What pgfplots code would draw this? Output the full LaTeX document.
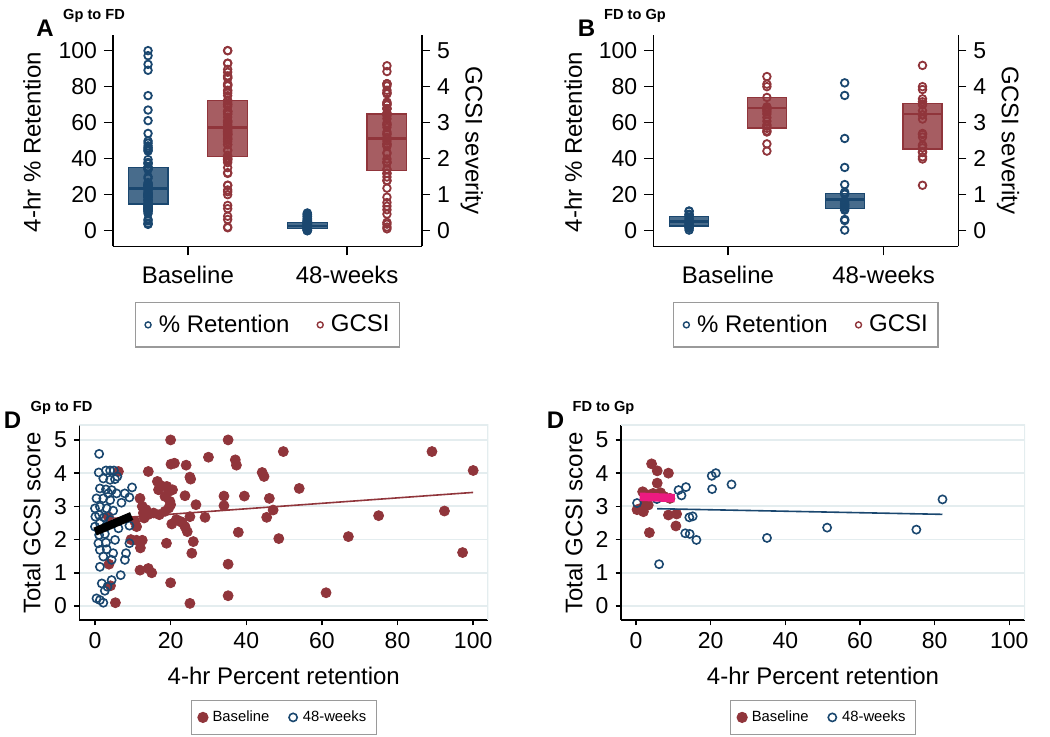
\documentclass[border=0pt]{standalone}
\usepackage{fontspec}
\setmainfont{Liberation Sans}
\usepackage{pgfplots}
\usepackage{pgfplotstable}
\pgfplotsset{compat=1.18}
\definecolor{navy}{HTML}{1A476F}
\definecolor{maroon}{HTML}{90353B}
\definecolor{gridc}{HTML}{E4EDEF}
\definecolor{fitpink}{RGB}{236,26,128}
\definecolor{legframe}{HTML}{9A9A9A}

% Gp to FD, baseline: 4-hr retention, GCSI
\pgfplotstableread{
ret gcsi
20.0 5.00
35.2 5.00
49.8 4.65
89.1 4.65
30.0 4.48
37.1 4.40
37.4 4.24
20.1 4.27
21.0 4.30
24.1 4.24
14.1 4.05
6.2 4.05
25.1 3.88
25.3 3.82
44.2 4.02
44.7 3.90
100 4.08
54.0 3.54
16.5 3.75
16.8 3.50
17.5 3.62
19.0 3.60
19.5 3.45
20.5 3.50
18.5 3.30
19.8 3.15
39.5 3.31
34.1 3.31
46.1 3.24
23.8 3.32
11.9 3.24
12.5 3.00
13.5 2.90
26.7 3.05
34.1 3.02
47.1 2.89
92.4 2.86
29.1 2.67
45.4 2.67
75.0 2.72
20.3 2.47
23.0 2.52
25.1 2.69
23.8 2.39
24.4 2.24
37.9 2.22
67.0 2.09
18.9 1.89
26.0 1.94
48.6 2.03
11.0 2.39
9.5 2.00
11.0 1.98
12.0 1.75
12.5 1.98
25.6 1.59
97.2 1.61
35.2 1.26
11.9 1.08
14.1 1.13
15.0 1.00
3.7 1.26
20.0 0.70
4.1 0.61
61.1 0.40
35.2 0.31
5.4 0.10
25.1 0.08
3.5 2.69
12.8 2.80
14.0 2.75
15.5 2.80
17.0 2.75
18.5 2.85
19.5 2.95
20.0 3.05
13.0 2.65
10.5 2.55
21.5 2.60
22.5 2.55
}\gpBase

% Gp to FD, 48 weeks
\pgfplotstableread{
ret gcsi
1.1 4.58
1.0 4.02
2.9 4.08
4.0 4.08
5.0 4.08
5.9 3.90
5.3 3.82
2.2 3.84
4.0 3.80
1.3 3.54
2.9 3.51
4.4 3.49
5.7 3.39
3.5 3.39
0.4 3.24
2.2 3.24
4.0 3.19
7.0 3.11
9.1 3.27
9.8 3.57
7.9 3.39
0.0 2.94
1.3 2.99
3.1 2.94
4.8 2.87
0.1 2.69
1.1 2.74
2.4 2.67
4.0 2.59
1.3 2.49
0.0 2.39
2.9 2.39
6.2 2.34
9.1 2.42
1.1 2.14
2.6 2.17
0.9 1.89
2.9 1.91
5.3 1.99
9.1 1.89
1.3 1.69
3.1 1.71
4.8 1.59
8.2 1.59
7.9 1.39
2.2 1.49
1.3 1.18
4.4 1.39
6.8 0.93
1.8 0.68
3.3 0.58
2.6 0.46
0.4 0.23
1.3 0.18
2.2 0.10
4.4 0.78
nan 4.42
nan 0.05
}\gpWk

% FD to Gp, baseline
\pgfplotstableread{
ret gcsi
4.2 4.28
5.7 4.07
8.7 4.00
5.7 3.70
1.8 3.44
4.6 3.39
6.6 3.41
9.1 3.24
1.3 2.94
2.0 2.84
3.3 3.04
2.4 3.14
8.7 2.74
10.9 2.77
10.7 2.41
3.6 2.21
7.5 3.30
3.0 3.35
0.3 2.90
}\fdBase

% FD to Gp, 48 weeks
\pgfplotstableread{
ret gcsi
6.2 1.26
11.4 3.49
12.2 3.33
13.4 3.58
13.2 2.19
14.4 2.17
14.3 2.67
15.2 2.70
16.2 1.99
20.3 3.92
21.4 4.00
20.4 3.52
25.6 3.66
35.1 2.05
51.2 2.36
75.1 2.30
82.1 3.21
5.6 3.22
0.3 3.10
nan 4.59
nan 2.60
nan 2.38
}\fdWk

\begin{document}
\begin{tikzpicture}
\path[use as bounding box] (0pt,0pt) rectangle (525pt,368.5pt);
\pgfplotsset{
  common/.style={scale only axis, anchor=south west,
    /pgf/number format/assume math mode=true,
    tick align=outside,
    axis line style={-,line width=0.7pt,black},
    major tick style={line width=0.7pt,black},
    tick label style={font=\fontsize{11.5}{13}\selectfont},
    label style={font=\fontsize{12}{14}\selectfont}},
  boxpanel/.style={common, width=154.5pt, height=105.65pt, xmin=0.53, xmax=2.47},
  retax/.style={boxpanel, ymin=-8.7, ymax=108.7,
    axis x line*=bottom, axis y line*=left,
    xtick={1,2}, xticklabels={Baseline,48-weeks},
    ytick={0,20,40,60,80,100}, major tick length=4.5pt,
    x tick label style={font=\fontsize{12}{14}\selectfont, yshift=-2pt},
    ylabel={4-hr \% Retention},
    ylabel style={at={(axis description cs:-0.262,0.493)}, anchor=center},
    legend style={at={(0.5,-0.264)}, anchor=north, legend columns=2,
      draw=legframe, line width=0.6pt, font=\fontsize{12}{14}\selectfont,
      inner xsep=3pt, inner ysep=4pt,
      /tikz/every even column/.append style={column sep=10pt}},
    legend image code/.code={\path (0pt,0pt) (6pt,0pt); \draw[##1] plot coordinates {(3pt,0pt)};}},
  gcsiax/.style={boxpanel, ymin=-0.435, ymax=5.435,
    axis x line=none, axis y line*=right,
    ytick={0,1,2,3,4,5}, major tick length=4pt,
    ylabel={GCSI severity},
    ylabel style={at={(axis description cs:1.161,0.5)}, anchor=center, rotate=180}},
  scatax/.style={common, height=97.5pt, ymin=-0.42, ymax=5.45,
    clip marker paths=true,
    axis x line*=bottom, axis y line*=left,
    xtick={0,20,40,60,80,100}, ytick={0,1,2,3,4,5}, major tick length=2.7pt,
    ymajorgrids, grid style={gridc, line width=0.9pt},
    xlabel={4-hr Percent retention}, ylabel={Total GCSI score},
    xlabel style={at={(axis description cs:0.5,-0.285)}, anchor=center},
    ylabel style={at={(axis description cs:-0.116,0.497)}, anchor=center},
    legend style={at={(0.5,-0.41)}, anchor=north, legend columns=2,
      draw=legframe, line width=0.6pt, font=\fontsize{7.4}{9}\selectfont,
      inner xsep=3pt, inner ysep=3pt,
      /tikz/every even column/.append style={column sep=7pt}},
    legend image code/.code={\path (0pt,0pt) (5pt,0pt); \draw[##1] plot coordinates {(2.5pt,0pt)};}},
  bluebox/.style={forget plot, draw=navy, line width=0.6pt, fill=navy, fill opacity=0.8},
  redbox/.style={forget plot, draw=maroon, line width=0.6pt, fill=maroon, fill opacity=0.8},
  bluept/.style={forget plot, only marks, mark=o, navy, mark size=1.9pt, line width=0.9pt},
  redpt/.style={forget plot, only marks, mark=o, maroon, mark size=1.9pt, line width=0.9pt},
}

% ---------------- Panel A ----------------
\begin{axis}[retax, at={(56.5pt,245.35pt)}]
\addplot[bluebox] coordinates {(0.625,14.8)(0.875,14.8)(0.875,35)(0.625,35)} -- cycle;
\addplot[forget plot, navy, line width=1.2pt] coordinates {(0.625,23.3)(0.875,23.3)};
\addplot[bluebox] coordinates {(1.625,1.0)(1.875,1.0)(1.875,4.4)(1.625,4.4)} -- cycle;
\addplot[forget plot, navy, line width=1.2pt] coordinates {(1.625,2.5)(1.875,2.5)};
\addplot[bluept] table[x expr=0.75, y=ret] {\gpBase};
\addplot[bluept] table[x expr=1.75, y=ret] {\gpWk};
\addlegendimage{only marks, mark=o, navy, mark size=1.5pt, line width=0.7pt}
\addlegendentry{\% Retention}
\addlegendimage{only marks, mark=o, maroon, mark size=1.5pt, line width=0.7pt}
\addlegendentry{GCSI}
\end{axis}
\begin{axis}[gcsiax, at={(56.5pt,245.35pt)}]
\addplot[redbox] coordinates {(1.125,2.06)(1.375,2.06)(1.375,3.61)(1.125,3.61)} -- cycle;
\addplot[forget plot, maroon, line width=1.2pt] coordinates {(1.125,2.86)(1.375,2.86)};
\addplot[redbox] coordinates {(2.125,1.66)(2.375,1.66)(2.375,3.24)(2.125,3.24)} -- cycle;
\addplot[forget plot, maroon, line width=1.2pt] coordinates {(2.125,2.56)(2.375,2.56)};
\addplot[redpt] table[x expr=1.25, y=gcsi] {\gpBase};
\addplot[redpt] table[x expr=2.25, y=gcsi] {\gpWk};
\end{axis}

% ---------------- Panel B ----------------
\begin{axis}[retax, at={(326.65pt,245.35pt)}, width=152.5pt, xmin=0.52, xmax=2.48]
\addplot[bluebox] coordinates {(0.625,2.6)(0.875,2.6)(0.875,8.0)(0.625,8.0)} -- cycle;
\addplot[forget plot, navy, line width=1.2pt] coordinates {(0.625,5.0)(0.875,5.0)};
\addplot[bluebox] coordinates {(1.625,12.2)(1.875,12.2)(1.875,20.7)(1.625,20.7)} -- cycle;
\addplot[forget plot, navy, line width=1.2pt] coordinates {(1.625,17.4)(1.875,17.4)};
\addplot[bluept] table[x expr=0.75, y=ret] {\fdBase};
\addplot[bluept] table[x expr=1.75, y=ret] {\fdWk};
\addlegendimage{only marks, mark=o, navy, mark size=1.5pt, line width=0.7pt}
\addlegendentry{\% Retention}
\addlegendimage{only marks, mark=o, maroon, mark size=1.5pt, line width=0.7pt}
\addlegendentry{GCSI}
\end{axis}
\begin{axis}[gcsiax, at={(326.65pt,245.35pt)}, width=152.5pt, xmin=0.52, xmax=2.48,
  ylabel style={at={(axis description cs:1.163,0.5)}}]
\addplot[redbox] coordinates {(1.125,2.85)(1.375,2.85)(1.375,3.70)(1.125,3.70)} -- cycle;
\addplot[forget plot, maroon, line width=1.2pt] coordinates {(1.125,3.40)(1.375,3.40)};
\addplot[redbox] coordinates {(2.125,2.27)(2.375,2.27)(2.375,3.54)(2.125,3.54)} -- cycle;
\addplot[forget plot, maroon, line width=1.2pt] coordinates {(2.125,3.24)(2.375,3.24)};
\addplot[redpt] table[x expr=1.25, y=gcsi] {\fdBase};
\addplot[redpt] table[x expr=2.25, y=gcsi] {\fdWk};
\end{axis}

% ---------------- Panel D (Gp to FD) ----------------
\begin{axis}[scatax, at={(39.65pt,58.5pt)}, width=204.5pt, xmin=-4.15, xmax=104]
\draw[gridc, line width=0.9pt] (rel axis cs:0,1) -- (rel axis cs:1,1) -- (rel axis cs:1,0);
\addplot[only marks, mark=*, maroon, mark size=2.5pt] table[x=ret, y=gcsi] {\gpBase};
\addlegendentry{Baseline}
\addplot[only marks, mark=o, navy, mark size=2.05pt, line width=0.8pt] table[x=ret, y=gcsi] {\gpWk};
\addlegendentry{48-weeks}
\addplot[forget plot, maroon, line width=0.8pt] coordinates {(3.7,2.63)(100,3.42)};
\addplot[forget plot, draw=black, line width=4.2pt] coordinates {(0,2.24)(9.7,2.71)};
\end{axis}

% ---------------- Panel D (FD to Gp) ----------------
\begin{axis}[scatax, at={(310.5pt,58.5pt)}, width=202pt, xmin=-4.0, xmax=104.2,
  ylabel style={at={(axis description cs:-0.117,0.497)}}]
\draw[gridc, line width=0.9pt] (rel axis cs:0,1) -- (rel axis cs:1,1) -- (rel axis cs:1,0);
\addplot[only marks, mark=*, maroon, mark size=2.5pt] table[x=ret, y=gcsi] {\fdBase};
\addlegendentry{Baseline}
\addplot[only marks, mark=o, navy, mark size=2.05pt, line width=0.8pt] table[x=ret, y=gcsi] {\fdWk};
\addlegendentry{48-weeks}
\addplot[forget plot, navy, line width=0.8pt] coordinates {(5.7,2.93)(82.1,2.76)};
\addplot[forget plot, draw=fitpink, line width=4.2pt] coordinates {(1.0,3.29) (10.4,3.25)};
\end{axis}

% panel letters and subtitles
\node[font=\bfseries\fontsize{12}{14}\selectfont] at (22.5pt,354.25pt) {A};
\node[font=\bfseries\fontsize{7.3}{9}\selectfont] at (47pt,360.5pt) {Gp to FD};
\node[font=\bfseries\fontsize{12}{14}\selectfont] at (293.25pt,354.25pt) {B};
\node[font=\bfseries\fontsize{7.3}{9}\selectfont] at (317.5pt,360.5pt) {FD to Gp};
\node[font=\bfseries\fontsize{12}{14}\selectfont] at (6.25pt,158.5pt) {D};
\node[font=\bfseries\fontsize{7.3}{9}\selectfont] at (30.75pt,164.5pt) {Gp to FD};
\node[font=\bfseries\fontsize{12}{14}\selectfont] at (277.75pt,158.5pt) {D};
\node[font=\bfseries\fontsize{7.3}{9}\selectfont] at (301.75pt,164.5pt) {FD to Gp};
\end{tikzpicture}
\end{document}
